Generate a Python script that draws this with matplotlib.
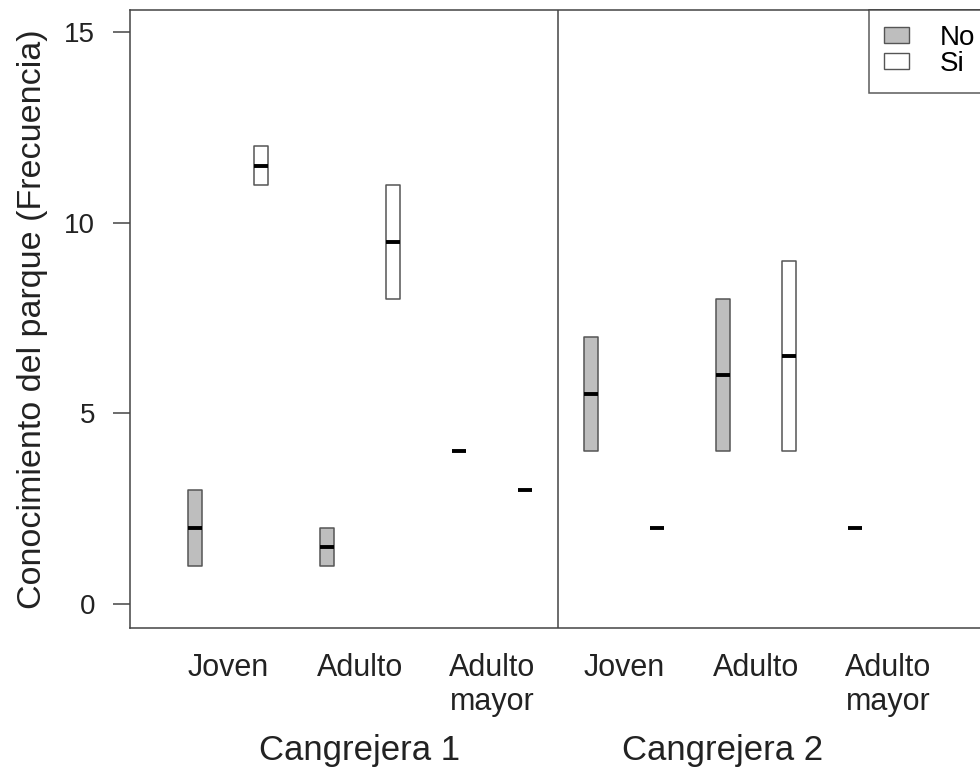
import numpy as np
import matplotlib.pyplot as plt
from matplotlib.patches import Patch

plt.rcParams['font.family'] = ['Liberation Sans', 'DejaVu Sans']

# data
sites = ['Cangrejera 1', 'Cangrejera 2']
ages = ['Joven', 'Adulto', 'Adulto\nmayor']
answers = ['No', 'Si']
# order: site -> age -> answer (No, Si); None = no data
q1 = [1, 11, 1, 8, 4, 3,
      4, 2, 4, 4, 2, None]
med = [2, 11.5, 1.5, 9.5, 4, 3,
       5.5, 2, 6, 6.5, 2, None]
q3 = [3, 12, 2, 11, 4, 3,
      7, 2, 8, 9, 2, None]
fills = {'No': '#bebebe', 'Si': 'white'}

fig = plt.figure(figsize=(9.8, 7.68), dpi=100)
ax = fig.add_axes([130 / 980, 1 - 628 / 768, 860 / 980, 618 / 768])

stats, pos, cols = [], [], []
for i in range(len(q1)):
    if q1[i] is None:
        continue
    stats.append(dict(med=med[i], q1=q1[i], q3=q3[i], whislo=q1[i], whishi=q3[i], fliers=[]))
    pos.append(i + 1)
    cols.append(fills[answers[i % 2]])

bp = ax.bxp(stats, positions=pos, widths=0.21, patch_artist=True, showcaps=False,
            boxprops=dict(edgecolor='#555555', linewidth=1.1, joinstyle='round'),
            medianprops=dict(color='black', linewidth=2.8, solid_capstyle='butt'),
            whiskerprops=dict(linewidth=0), manage_ticks=False)
for b, c in zip(bp['boxes'], cols):
    b.set_facecolor(c)

ax.set_xlim(1 - 65 / 66, 1 + (990 - 195) / 66)
ax.set_ylim(-0.63, 15.58)
ax.axvline(6.5, color='#444444', lw=1.1)

for s in ['left', 'bottom', 'top']:
    ax.spines[s].set_color('#444444')
    ax.spines[s].set_linewidth(1.1)
ax.spines['right'].set_visible(False)

ax.set_yticks([0, 5, 10, 15])
ax.tick_params(axis='y', length=12, width=1.1, color='#444444', pad=13, labelsize=20, labelcolor='#222222')
ax.set_xticks([])
ax.set_ylabel('Conocimiento del parque (Frecuencia)', fontsize=24.5, color='#222222', labelpad=12)

trans = ax.get_xaxis_transform()
for g in range(2):
    for k, a in enumerate(ages):
        x = 6 * g + 2 * k + 1.5
        ax.text(x, -0.04, a, transform=trans, ha='center', va='top', fontsize=22,
                color='#222222', linespacing=1.2)
ax.text(3.5, -0.172, sites[0], transform=trans, ha='center', va='top', fontsize=25, color='#222222')
ax.text(9.0, -0.172, sites[1], transform=trans, ha='center', va='top', fontsize=25, color='#222222')

handles = [Patch(facecolor=fills[a], edgecolor='#555555', label=a) for a in answers]
leg = ax.legend(handles=handles, loc='upper right', bbox_to_anchor=(1, 1), borderaxespad=0,
                fontsize=20, frameon=True, fancybox=False, handlelength=0.9, handleheight=0.5,
                handletextpad=1.1, labelspacing=0.0, borderpad=0.55)
leg.get_frame().set_edgecolor('#333333')
leg.get_frame().set_linewidth(1.1)

plt.savefig('out.png', dpi=100)
